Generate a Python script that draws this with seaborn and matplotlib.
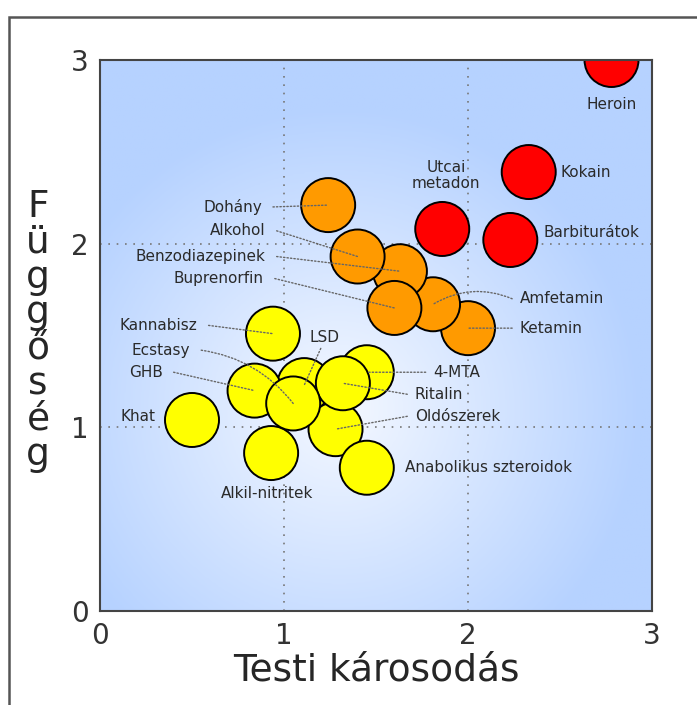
import matplotlib
matplotlib.use("Agg")
import matplotlib.pyplot as plt
from matplotlib.colors import LinearSegmentedColormap
from matplotlib.patches import Rectangle
from matplotlib.path import Path
import numpy as np
import pandas as pd
import seaborn as sns

# Data: physical harm (x) vs dependence (y)
drugs = ["Ketamin", "Amfetamin", "Benzodiazepinek", "Alkohol", "Buprenorfin", "Dohány",
         "Heroin", "Kokain", "Barbiturátok", "Utcai\nmetadon",
         "Kannabisz", "LSD", "GHB", "Khat", "Alkil-nitritek", "Oldószerek",
         "4-MTA", "Ritalin", "Ecstasy", "Anabolikus szteroidok"]
harm = [2.00, 1.81, 1.63, 1.40, 1.60, 1.24,
        2.78, 2.33, 2.23, 1.86,
        0.94, 1.11, 0.84, 0.50, 0.93, 1.28,
        1.45, 1.32, 1.05, 1.45]
dependence = [1.54, 1.67, 1.85, 1.93, 1.65, 2.21,
              3.00, 2.39, 2.02, 2.08,
              1.51, 1.23, 1.20, 1.04, 0.86, 0.99,
              1.30, 1.24, 1.13, 0.78]
group = ["mid", "mid", "mid", "mid", "mid", "mid",
         "high", "high", "high", "high",
         "low", "low", "low", "low", "low", "low",
         "low", "low", "low", "low"]
palette = {"high": "#ff0000", "mid": "#ff9a00", "low": "#ffff00"}

# label placement: (x, y, ha, leader line?)
label_pos = {
    "Heroin": (2.78, 2.76, "center", False),
    "Kokain": (2.50, 2.39, "left", False),
    "Barbiturátok": (2.41, 2.06, "left", False),
    "Utcai\nmetadon": (1.88, 2.37, "center", False),
    "Dohány": (0.88, 2.20, "right", True),
    "Alkohol": (0.90, 2.07, "right", True),
    "Benzodiazepinek": (0.90, 1.93, "right", True),
    "Buprenorfin": (0.89, 1.81, "right", True),
    "Amfetamin": (2.28, 1.70, "left", True),
    "Ketamin": (2.28, 1.54, "left", True),
    "Kannabisz": (0.53, 1.555, "right", True),
    "Ecstasy": (0.49, 1.42, "right", True),
    "GHB": (0.34, 1.30, "right", True),
    "Khat": (0.30, 1.06, "right", False),
    "LSD": (1.22, 1.49, "center", True),
    "4-MTA": (1.81, 1.30, "left", True),
    "Ritalin": (1.71, 1.18, "left", True),
    "Oldószerek": (1.71, 1.06, "left", True),
    "Anabolikus szteroidok": (1.66, 0.78, "left", False),
    "Alkil-nitritek": (0.91, 0.64, "center", False),
}
# a couple of leader lines are bent in the original
leader_bend = {"Amfetamin": 0.25, "Ecstasy": -0.2}

df = pd.DataFrame({"drug": drugs, "harm": harm, "dependence": dependence, "group": group})

sns.set_style("white")
plt.rcParams["font.family"] = ["DejaVu Sans"]

fig = plt.figure(figsize=(6.97, 7.05), dpi=100)
ax = fig.add_axes([100 / 697, 1 - 611 / 705, 552 / 697, 551 / 705])

# radial background gradient
gx, gy = np.meshgrid(np.linspace(0, 3, 300), np.linspace(0, 3, 300))
dist = np.sqrt((gx - 1.3) ** 2 + (gy - 1.1) ** 2)
bg_cmap = LinearSegmentedColormap.from_list("bg", ["#f4f8ff", "#b6d2ff"])
ax.imshow(dist, extent=[0, 3, 0, 3], origin="lower", cmap=bg_cmap,
          vmin=0, vmax=1.65, aspect="auto", zorder=0)

for v in (1, 2):
    ax.axvline(v, color="#777777", lw=1.2, ls=(0, (1, 4)), zorder=1)
    ax.axhline(v, color="#777777", lw=1.2, ls=(0, (1, 4)), zorder=1)

# leader lines
for name, x, y in zip(drugs, harm, dependence):
    lx, ly, ha, leader = label_pos[name]
    if not leader:
        continue
    sx = lx + (0.06 if ha == "right" else -0.04 if ha == "left" else -0.02)
    sy = ly if ha != "center" else ly - 0.06
    ax.annotate("", xy=(x, y), xytext=(sx, sy), zorder=2,
                arrowprops=dict(arrowstyle="-", color="#666666", lw=1.0,
                                linestyle=(0, (1, 1.5)), shrinkA=0, shrinkB=0,
                                connectionstyle=f"arc3,rad={leader_bend.get(name, 0)}"))

sns.scatterplot(data=df, x="harm", y="dependence", hue="group", palette=palette,
                s=1512, edgecolor="black", linewidth=1.4, legend=False, ax=ax, zorder=3)
pts = ax.collections[-1]
pts.set_zorder(1.5)
pts.set_clip_path(Path.unit_rectangle(), ax.transAxes)

for name in drugs:
    lx, ly, ha, leader = label_pos[name]
    ax.text(lx, ly, name, ha=ha, va="center", fontsize=11, color="#2a2a2a",
            linespacing=1.05, zorder=4)

ax.set_xlim(0, 3)
ax.set_ylim(0, 3)
ax.set_xticks([0, 1, 2, 3])
ax.set_yticks([0, 1, 2, 3])
ax.tick_params(labelsize=20, colors="#333333", length=0, pad=8)
ax.set_xlabel("Testi károsodás", fontsize=27, labelpad=2)
ax.set_ylabel("")
for sp in ax.spines.values():
    sp.set_visible(True)
    sp.set_color("#444444")
    sp.set_linewidth(1.5)

fig.text(38 / 697, 1 - 331 / 705, "F\nü\ng\ng\nő\ns\né\ng", ha="center", va="center",
         fontsize=27, linespacing=0.98)

fig.patches.append(Rectangle((9 / 697, -0.1), 1.2, 1 - 17 / 705 + 0.1, transform=fig.transFigure,
                             fill=False, edgecolor="#555555", lw=1.8))

fig.savefig("out.png", dpi=100)
